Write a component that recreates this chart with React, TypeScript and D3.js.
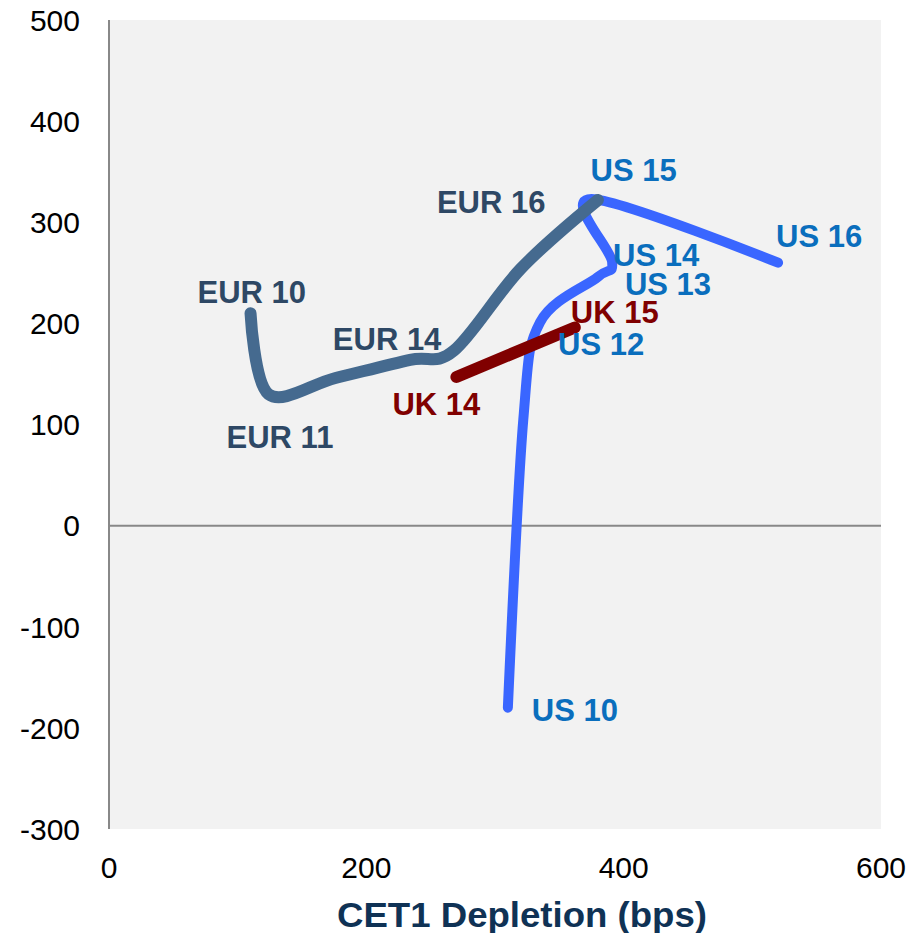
import React from "react";
import * as d3 from "d3";

// ---- data (x = CET1 depletion bps, y = value) ----
const eurLabels = ["EUR 10", "EUR 11", "EUR 12", "EUR 13", "EUR 14", "EUR 15", "EUR 16"];
const eurX = [110, 124, 176, 234, 268, 320, 380];
const eurY = [210, 130, 146, 164, 173, 254, 322];
const eurShown = [true, true, false, false, true, false, true];

const usLabels = ["US 10", "US 11", "US 12", "US 13", "US 14", "US 15", "US 16"];
const usX = [310, 322, 335, 380, 391, 375, 520];
const usY = [-180, 105, 201, 246, 261, 323, 260];
const usShown = [true, false, true, true, true, true, true];

const ukLabels = ["UK 14", "UK 15"];
const ukX = [270, 362];
const ukY = [147, 196];
const ukShown = [true, true];

const xTicks = [0, 200, 400, 600];
const yTicks = [500, 400, 300, 200, 100, 0, -100, -200, -300];
const xTitle = "CET1 Depletion (bps)";

// label offsets in px (text start, baseline) relative to point
const eurOffsets: [number, number][] = [[-53, -10], [-42, 54], [0, 0], [0, 0], [-121, -1], [0, 0], [-161, 13]];
const usOffsets: [number, number][] = [[24, 13], [0, 0], [18, 33], [27, 18], [1, 4], [-1, -18], [-2, -16]];
const ukOffsets: [number, number][] = [[-64, 38], [-4, -4]];

const W = 922, H = 933;
const left = 109, right = 881, top = 20, bottom = 829;
const FONT = "'Liberation Sans', Arial, Helvetica, sans-serif";

export default function App() {
  const x = d3.scaleLinear().domain([0, 600]).range([left, right]);
  const y = d3.scaleLinear().domain([-300, 500]).range([bottom, top]);
  const line = d3
    .line<[number, number]>()
    .x((d) => x(d[0]))
    .y((d) => y(d[1]))
    .curve(d3.curveCardinal.tension(0));

  const series = [
    { xs: usX, ys: usY, labels: usLabels, shown: usShown, offs: usOffsets, color: "#3A66FF", lc: "#0A6EBD", w: 10 },
    { xs: eurX, ys: eurY, labels: eurLabels, shown: eurShown, offs: eurOffsets, color: "#456A8F", lc: "#2E4865", w: 12 },
    { xs: ukX, ys: ukY, labels: ukLabels, shown: ukShown, offs: ukOffsets, color: "#800000", lc: "#800000", w: 12 },
  ];

  return (
    <svg width={W} height={H} style={{ position: "absolute", left: 0, top: 0, background: "#fff" }} fontFamily={FONT}>
      <rect x={left} y={top} width={right - left} height={bottom - top} fill="#F2F2F2" />
      <line x1={left} x2={right} y1={y(0)} y2={y(0)} stroke="#888" strokeWidth={2} />
      <line x1={left} x2={left} y1={top} y2={bottom} stroke="#888" strokeWidth={2} />
      {yTicks.map((t) => (
        <text key={"y" + t} x={80} y={y(t)} dy="0.36em" textAnchor="end" fontSize={30} fill="#000">
          {t}
        </text>
      ))}
      {xTicks.map((t) => (
        <text key={"x" + t} x={x(t)} y={878} textAnchor="middle" fontSize={30} fill="#000">
          {t}
        </text>
      ))}
      <text
        x={522}
        y={927}
        textAnchor="middle"
        fontSize={35}
        fontWeight="bold"
        fill="#0F3255"
        textLength={370}
        lengthAdjust="spacingAndGlyphs"
      >
        {xTitle}
      </text>
      {series.map((s, i) => (
        <path
          key={"p" + i}
          d={line(s.xs.map((v, j) => [v, s.ys[j]] as [number, number])) || ""}
          fill="none"
          stroke={s.color}
          strokeWidth={s.w}
          strokeLinecap="round"
          strokeLinejoin="round"
        />
      ))}
      {series.map((s, i) =>
        s.labels.map((lab, j) =>
          s.shown[j] ? (
            <text
              key={"l" + i + "-" + j}
              x={x(s.xs[j]) + s.offs[j][0]}
              y={y(s.ys[j]) + s.offs[j][1]}
              fontSize={31}
              fontWeight="bold"
              fill={s.lc}
            >
              {lab}
            </text>
          ) : null
        )
      )}
    </svg>
  );
}
